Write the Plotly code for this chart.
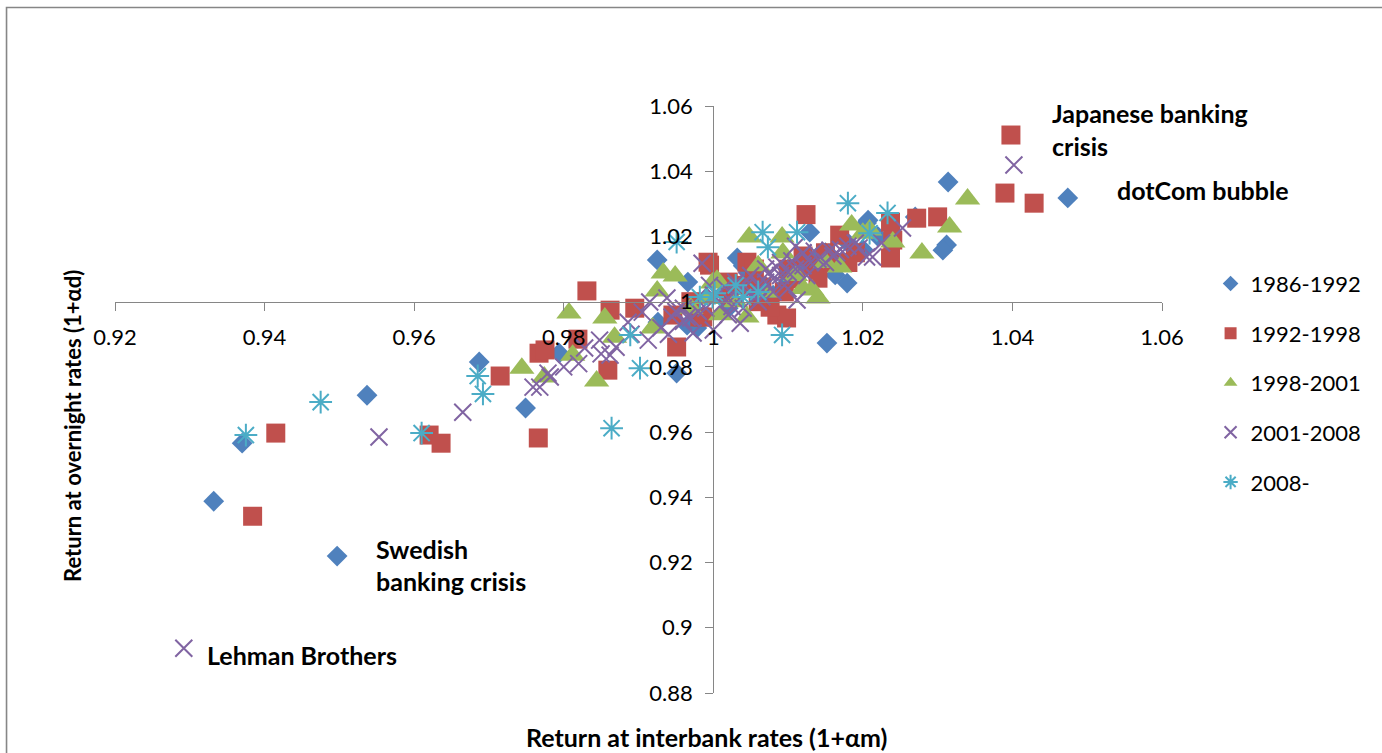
import plotly.graph_objects as go

# ---------------- data ----------------
series_names = ["1986-1992", "1992-1998", "1998-2001", "2001-2008", "2008-"]

x_1986 = [0.9497, 0.9332, 0.9370, 0.9537, 0.9687, 0.9749, 0.9794, 0.9925, 0.9951, 0.9966,
          0.9926, 0.9965, 0.9978, 1.0032, 1.0152, 1.0179, 1.0163, 1.0129, 1.0207, 1.0205,
          1.0270, 1.0314, 1.0312, 1.0307, 1.0474, 1.0050, 1.0100, 1.0120, 1.0020, 1.0080,
          1.0150, 1.0200, 1.0220, 0.9980, 1.0015, 1.0100, 1.0140, 1.0180, 1.0060, 1.0040]
y_1986 = [0.9220, 0.9388, 0.9566, 0.9713, 0.9815, 0.9674, 0.9842, 1.0128, 0.9781, 1.0060,
          0.9937, 0.9928, 0.9919, 1.0134, 0.9873, 1.0057, 1.0082, 1.0213, 1.0250, 1.0241,
          1.0260, 1.0367, 1.0174, 1.0158, 1.0318, 1.0080, 1.0060, 1.0120, 0.9980, 1.0020,
          1.0150, 1.0160, 1.0200, 0.9960, 1.0030, 1.0100, 1.0140, 1.0180, 1.0040, 1.0110]

x_1992 = [0.9384, 0.9415, 0.9620, 0.9636, 0.9715, 0.9766, 0.9767, 0.9831, 0.9862, 0.9895,
          0.9775, 0.9819, 0.9859, 0.9951, 0.9946, 0.9995, 0.9982, 1.0124, 0.9993, 1.0045,
          1.0085, 1.0098, 1.0076, 1.0140, 1.0169, 0.9986, 1.0398, 1.0390, 1.0429, 1.0272,
          1.0300, 1.0237, 1.0237, 1.0240, 1.0040, 1.0100, 1.0150, 1.0180, 1.0060, 1.0020,
          0.9970, 1.0120, 1.0020, 1.0065, 1.0110, 1.0135, 1.0160, 1.0190, 1.0055, 1.0095]
y_1992 = [0.9342, 0.9597, 0.9591, 0.9566, 0.9772, 0.9582, 0.9842, 1.0033, 0.9974, 0.9980,
          0.9852, 0.9885, 0.9790, 0.9861, 0.9959, 1.0112, 0.9953, 1.0267, 1.0121, 1.0121,
          0.9959, 0.9950, 0.9983, 1.0072, 1.0204, 0.9953, 1.0511, 1.0333, 1.0302, 1.0256,
          1.0260, 1.0244, 1.0134, 1.0189, 1.0050, 1.0100, 1.0150, 1.0120, 1.0000, 1.0020,
          1.0000, 1.0140, 1.0060, 1.0045, 1.0070, 1.0110, 1.0120, 1.0150, 1.0100, 1.0030]

x_1998 = [0.9744, 0.9774, 0.9807, 0.9855, 0.9844, 0.9812, 0.9868, 0.9933, 0.9949, 0.9925,
          0.9919, 0.9999, 1.0048, 1.0092, 1.0093, 1.0132, 1.0140, 1.0185, 1.0169, 1.0045,
          1.0005, 1.0209, 1.0340, 1.0316, 1.0279, 1.0240, 1.0200, 1.0030, 1.0070, 1.0110,
          1.0010, 0.9970, 1.0060, 1.0150, 1.0120, 0.9990]
y_1998 = [0.9796, 0.9769, 0.9965, 0.9950, 0.9757, 0.9836, 0.9891, 1.0088, 1.0079, 1.0033,
          0.9919, 1.0057, 1.0198, 1.0198, 1.0149, 1.0036, 1.0011, 1.0235, 1.0106, 0.9953,
          1.0066, 1.0220, 1.0315, 1.0229, 1.0149, 1.0183, 1.0210, 1.0000, 1.0030, 1.0080,
          0.9960, 0.9980, 1.0110, 1.0120, 1.0040, 1.0010]

x_2001 = [0.9292, 0.9553, 0.9665, 0.9759, 0.9768, 0.9779, 0.9782, 0.9828, 0.9848, 0.9862,
          0.9886, 0.9905, 0.9915, 0.9938, 0.9945, 0.9965, 0.9973, 0.9985, 0.9913, 1.0036,
          1.0085, 1.0120, 1.0156, 1.0112, 1.0062, 1.0253, 1.0205, 1.0402, 1.0213, 1.0000,
          1.0010, 1.0020, 1.0030, 1.0040, 1.0050, 1.0060, 1.0070, 1.0080, 1.0090, 1.0100,
          1.0110, 1.0120, 1.0130, 1.0140, 1.0160, 1.0170, 1.0180, 1.0190, 0.9990, 0.9980,
          0.9970, 0.9960, 0.9950, 1.0020, 1.0040, 1.0060, 1.0080, 1.0100, 1.0030, 1.0050,
          1.0070, 1.0090, 1.0120, 1.0150, 1.0110, 0.9930, 0.9890, 0.9870, 0.9850, 0.9820,
          0.9800, 1.0015, 1.0045, 1.0075, 1.0105, 1.0135, 1.0165, 1.0195, 1.0225, 1.0000,
          1.0025, 1.0065, 1.0095, 1.0125, 0.9940, 0.9960, 0.9995]
y_2001 = [0.8937, 0.9585, 0.9661, 0.9738, 0.9738, 0.9781, 0.9769, 0.9858, 0.9882, 0.9836,
          0.9937, 0.9968, 0.9999, 1.0011, 0.9953, 0.9953, 0.9904, 1.0118, 0.9882, 0.9934,
          1.0106, 1.0149, 1.0158, 1.0005, 1.0026, 1.0226, 1.0137, 1.0419, 1.0137, 0.9913,
          0.9990, 1.0010, 1.0020, 1.0040, 1.0030, 1.0050, 1.0060, 1.0070, 1.0080, 1.0090,
          1.0100, 1.0110, 1.0120, 1.0130, 1.0140, 1.0160, 1.0170, 1.0180, 0.9980, 0.9970,
          0.9950, 0.9940, 0.9970, 0.9960, 0.9980, 1.0000, 1.0030, 1.0040, 1.0060, 1.0080,
          1.0100, 1.0120, 1.0150, 1.0120, 1.0170, 0.9920, 0.9900, 0.9860, 0.9840, 0.9810,
          0.9800, 1.0045, 1.0065, 1.0090, 1.0125, 1.0155, 1.0150, 1.0165, 1.0180, 1.0020,
          0.9985, 1.0015, 1.0050, 1.0080, 0.9900, 0.9980, 1.0050]

x_2008 = [0.9375, 0.9475, 0.9610, 0.9685, 0.9692, 0.9864, 0.9902, 0.9889, 0.9951, 0.9982,
          0.9999, 1.0180, 1.0066, 1.0112, 1.0073, 1.0092, 1.0002, 1.0040, 1.0209, 1.0233,
          1.0030, 1.0060]
y_2008 = [0.9591, 0.9692, 0.9597, 0.9772, 0.9717, 0.9612, 0.9796, 0.9898, 1.0183, 1.0014,
          1.0014, 1.0302, 1.0213, 1.0213, 1.0167, 0.9898, 1.0026, 1.0014, 1.0210, 1.0272,
          1.0050, 1.0030]

x_ticks = [0.92, 0.94, 0.96, 0.98, 1.00, 1.02, 1.04, 1.06]
y_ticks = [0.88, 0.90, 0.92, 0.94, 0.96, 0.98, 1.00, 1.02, 1.04, 1.06]

notes = ["Japanese banking", "crisis", "dotCom bubble", "Russian default",
         "Swedish", "banking crisis", "Lehman Brothers"]
note_x = [1.0450, 1.0450, 1.0537, 0.9180, 0.9546, 0.9546, 0.9320]
note_y = [1.0579, 1.0477, 1.0342, 0.9244, 0.9241, 0.9143, 0.8916]

# ---------------- styling ----------------
FONT = "Lato"
colors = ["#4F81BD", "#C0504D", "#9BBB59", "#8064A2", "#4BACC6"]
xs = [x_1986, x_1992, x_1998, x_2001, x_2008]
ys = [y_1986, y_1992, y_1998, y_2001, y_2008]
markers = [
    dict(symbol="diamond", size=16, color=colors[0], line=dict(width=0)),
    dict(symbol="square", size=19, color=colors[1], line=dict(width=0)),
    dict(symbol="triangle-up", size=22, color=colors[2], line=dict(width=0)),
    dict(symbol="x-thin-open", size=17, color=colors[3], line=dict(width=2, color=colors[3])),
    dict(symbol="asterisk-open", size=19, color=colors[4], line=dict(width=2, color=colors[4])),
]

fig = go.Figure()
for name, x, y, m in zip(series_names, xs, ys, markers):
    fig.add_trace(go.Scatter(x=x, y=y, mode="markers", name=name, marker=m,
                             legendgroup=name, cliponaxis=False))

axis_color = "#868686"
fig.update_layout(
    width=1382, height=753,
    margin=dict(l=115, r=220, t=106, b=60, autoexpand=False),
    paper_bgcolor="white", plot_bgcolor="white",
    font=dict(family=FONT, size=22, color="black"),
    showlegend=True,
    legend=dict(x=1.0464, y=0.733, xanchor="left", yanchor="top",
                traceorder="grouped", tracegroupgap=18, itemsizing="constant",
                font=dict(family=FONT, size=22, color="black"),
                bgcolor="rgba(0,0,0,0)"),
    xaxis=dict(range=[0.92, 1.06], tickvals=x_ticks, anchor="free",
               position=(1 - 0.88) / 0.18, showline=True, linecolor=axis_color,
               linewidth=1.3, ticks="outside", ticklen=8, tickcolor=axis_color,
               tickwidth=1.3, showgrid=False, zeroline=False, ticklabelstandoff=8,
               tickfont=dict(family=FONT, size=22)),
    yaxis=dict(range=[0.88, 1.06], tickvals=y_ticks, anchor="free",
               position=(1 - 0.92) / 0.14, showline=True, linecolor=axis_color,
               linewidth=1.3, ticks="outside", ticklen=8, tickcolor=axis_color,
               tickwidth=1.3, showgrid=False, zeroline=False, ticklabelstandoff=8,
               tickfont=dict(family=FONT, size=22)),
)

for t, x, y in zip(notes, note_x, note_y):
    fig.add_annotation(x=x, y=y, xref="x", yref="y", text="<b>" + t + "</b>",
                       showarrow=False, xanchor="left", yanchor="middle",
                       font=dict(family=FONT, size=25, color="black"))

fig.add_annotation(x=0.5654, y=-0.075, xref="paper", yref="paper",
                   text="<b>Return at interbank rates (1+αm)</b>", showarrow=False,
                   xanchor="center", yanchor="middle",
                   font=dict(family=FONT, size=25, color="black"))
fig.add_annotation(x=-0.0401, y=0.4549, xref="paper", yref="paper",
                   text="<b>Return at overnight rates (1+αd)</b>", showarrow=False,
                   textangle=-90, xanchor="center", yanchor="middle",
                   font=dict(family=FONT, size=22, color="black"))

fig.add_shape(type="rect", xref="paper", yref="paper",
              x0=-0.1036, x1=1.25, y0=-0.2, y1=1.1678,
              line=dict(color=axis_color, width=1.6), fillcolor="rgba(0,0,0,0)",
              layer="below")

fig.write_html("out.html", config={"displayModeBar": False},
               post_script="document.body.style.margin='0px';document.body.style.overflow='hidden';")
